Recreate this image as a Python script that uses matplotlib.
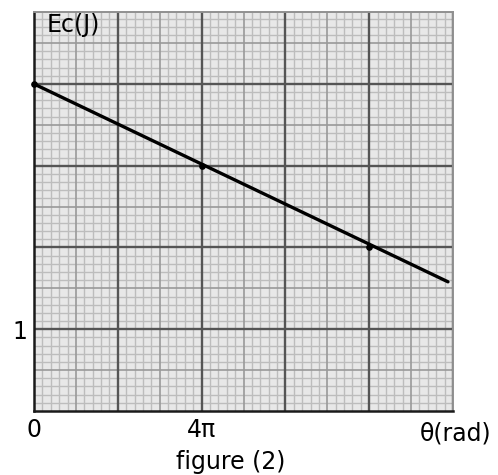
import numpy as np
import matplotlib
matplotlib.use('Agg')
import matplotlib.pyplot as plt

# data
theta_pts = [0.0, 4 * np.pi, 8 * np.pi]        # rad
ec_pts = [4.0, 3.0, 2.0]                       # J
theta_line = [0.0, 9.88 * np.pi]
ec_line = [4.0, 1.58]

x_ticks = [0.0, 4 * np.pi]
x_ticklabels = ['0', '4\u03c0']
y_ticks = [1.0]
y_ticklabels = ['1']

X_MAX = 10 * np.pi
Y_MAX = 4.88
X_MAJOR = 2 * np.pi
Y_MAJOR = 1.0

FS = 17

fig = plt.figure(figsize=(4.98, 4.75), dpi=100)
ax = fig.add_axes([34 / 498, 1 - 411 / 475, 419 / 498, 399 / 475])
ax.set_facecolor('#e8e8e8')
ax.set_xlim(0, X_MAX)
ax.set_ylim(0, Y_MAX)

# graph-paper grid: minor (1/10), medium (1/2), major
def paper(n_major, step, limit, line_fn):
    n = int(np.floor(limit / (step / 10))) + 1
    for i in range(n):
        v = i * step / 10
        if i % 10 == 0:
            continue
        if i % 5 == 0:
            line_fn(v, color='#999999', lw=1.2, zorder=1)
        else:
            line_fn(v, color='#bdbdbd', lw=1.0, zorder=0.9)
    for i in range(1, n_major + 1):
        line_fn(i * step, color='#555555', lw=1.7, zorder=1.2)

paper(5, X_MAJOR, X_MAX, ax.axvline)
paper(4, Y_MAJOR, Y_MAX, ax.axhline)

ax.plot(theta_line, ec_line, color='black', lw=2.4, solid_capstyle='round',
        zorder=3)
ax.plot(theta_pts, ec_pts, 'o', color='black', ms=3.8, clip_on=False,
        zorder=4)

for side in ('top', 'right'):
    ax.spines[side].set_color('#909090')
    ax.spines[side].set_linewidth(1.4)
for side in ('left', 'bottom'):
    ax.spines[side].set_color('#1a1a1a')
    ax.spines[side].set_linewidth(1.8)

ax.set_xticks(x_ticks)
ax.set_xticklabels(x_ticklabels, fontsize=FS)
ax.set_yticks(y_ticks)
ax.set_yticklabels(y_ticklabels, fontsize=FS)
ax.tick_params(length=0, pad=5)

fig.text(47 / 498, 1 - 25 / 475, 'Ec(J)', fontsize=FS, ha='left', va='center')
fig.text(456 / 498, 1 - 433 / 475, '\u03b8(rad)', fontsize=FS,
         ha='center', va='center')
fig.text(231 / 498, 1 - 462 / 475, 'figure (2)', fontsize=FS,
         ha='center', va='center')

fig.savefig('out.png', dpi=100)
